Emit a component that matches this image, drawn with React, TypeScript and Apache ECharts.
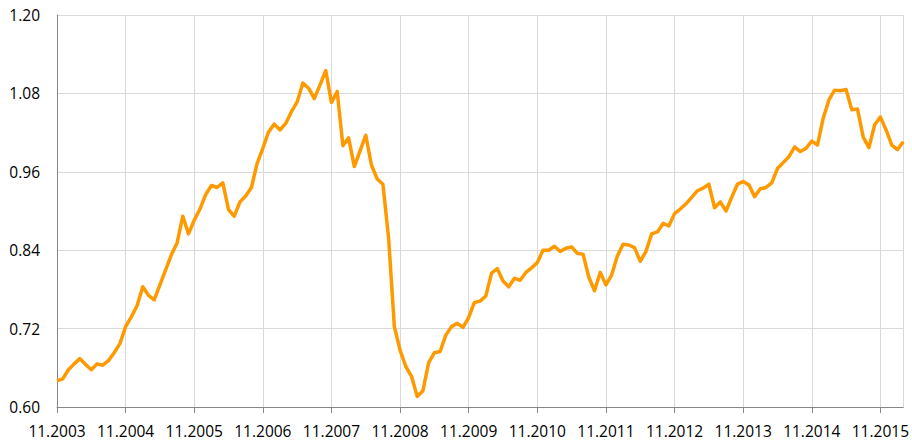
import React, { useEffect, useRef } from "react";
import * as echarts from "echarts";

// Monthly categories from 11.2003 to 03.2016
const startMonth = 11;
const startYear = 2003;
const monthCount = 149;
const categories: string[] = [];
for (let k = 0; k < monthCount; k++) {
  const m = ((startMonth - 1 + k) % 12) + 1;
  const y = startYear + Math.floor((startMonth - 1 + k) / 12);
  categories.push(`${m < 10 ? "0" + m : m}.${y}`);
}

const values: number[] = [
  0.640, 0.643, 0.657, 0.666, 0.674, 0.665, 0.657, 0.666, 0.664, 0.671,
  0.683, 0.697, 0.723, 0.738, 0.755, 0.784, 0.771, 0.764, 0.787, 0.810,
  0.833, 0.851, 0.892, 0.865, 0.886, 0.903, 0.925, 0.939, 0.936, 0.943,
  0.902, 0.892, 0.914, 0.923, 0.936, 0.973, 0.996, 1.021, 1.033, 1.024,
  1.034, 1.052, 1.067, 1.096, 1.088, 1.072, 1.093, 1.115, 1.066, 1.083,
  1.000, 1.012, 0.968, 0.992, 1.016, 0.970, 0.949, 0.941, 0.858, 0.723,
  0.687, 0.662, 0.647, 0.616, 0.625, 0.668, 0.683, 0.685, 0.710, 0.723,
  0.728, 0.722, 0.737, 0.760, 0.762, 0.770, 0.805, 0.812, 0.793, 0.784,
  0.797, 0.794, 0.806, 0.813, 0.821, 0.840, 0.840, 0.846, 0.838, 0.843,
  0.845, 0.835, 0.834, 0.799, 0.778, 0.806, 0.787, 0.802, 0.831, 0.849,
  0.848, 0.844, 0.823, 0.838, 0.865, 0.868, 0.881, 0.877, 0.896, 0.903,
  0.911, 0.921, 0.931, 0.935, 0.941, 0.905, 0.914, 0.900, 0.921, 0.941,
  0.945, 0.940, 0.922, 0.934, 0.936, 0.943, 0.965, 0.974, 0.983, 0.998,
  0.991, 0.996, 1.007, 1.001, 1.042, 1.070, 1.085, 1.084, 1.086, 1.055,
  1.056, 1.013, 0.997, 1.032, 1.044, 1.024, 1.001, 0.994, 1.006,
];

const yMin = 0.6;
const yMax = 1.2;
const yStep = 0.12;

export default function App() {
  const ref = useRef<HTMLDivElement>(null);
  useEffect(() => {
    if (!ref.current) return;
    const chart = echarts.init(ref.current, undefined, { renderer: "svg" });
    const lastIdx = categories.length - 1;
    chart.setOption({
      animation: false,
      backgroundColor: "#ffffff",
      grid: { left: 57, right: 6, top: 15, bottom: 39, containLabel: false },
      xAxis: {
        type: "category",
        data: categories,
        boundaryGap: false,
        axisLine: { show: true, lineStyle: { color: "#868686", width: 1 } },
        axisTick: {
          show: true,
          length: 6,
          interval: (i: number) => i % 12 === 0,
          lineStyle: { color: "#868686" },
        },
        axisLabel: {
          interval: (i: number) => i % 12 === 0,
          color: "#000000",
          fontFamily: "Open Sans",
          fontSize: 15.5,
          margin: 16,
        },
        splitLine: {
          show: true,
          interval: (i: number) => i % 12 === 0 || i === lastIdx,
          lineStyle: { color: "#d9d9d9", width: 1 },
        },
      },
      yAxis: {
        type: "value",
        min: yMin,
        max: yMax,
        interval: yStep,
        axisLine: { show: true, lineStyle: { color: "#868686", width: 1 } },
        axisTick: { show: false },
        axisLabel: {
          formatter: (v: number) => v.toFixed(2),
          color: "#000000",
          fontFamily: "Open Sans",
          fontSize: 15.5,
          margin: 17,
        },
        splitLine: { show: true, lineStyle: { color: "#d9d9d9", width: 1 } },
      },
      series: [
        {
          type: "line",
          data: values,
          symbol: "none",
          lineStyle: { color: "#ff9900", width: 3.5, join: "round" },
          itemStyle: { color: "#ff9900" },
        },
      ],
    });
    return () => chart.dispose();
  }, []);
  return (
    <div
      ref={ref}
      style={{ position: "fixed", left: 0, top: 0, width: 912, height: 446 }}
    />
  );
}
